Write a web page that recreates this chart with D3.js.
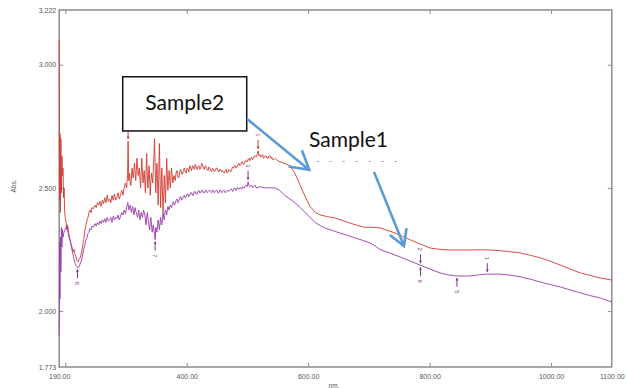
<!DOCTYPE html>
<html><head><meta charset="utf-8">
<script src="https://cdn.jsdelivr.net/npm/d3@7/dist/d3.min.js"></script>
<style>html,body{margin:0;padding:0;background:#fff;}svg{display:block;}</style>
</head><body>
<script>
// ---- data ----
const xTickMarks = [200, 400, 600, 800, 1000];
const xTickLabels = [190, 400, 600, 800, 1000, 1100];
const yTickMarks = [2.0, 2.5, 3.0];
const yTickLabels = [1.773, 2.0, 2.5, 3.0, 3.222];
const xDomain = [190, 1100];
const yDomain = [1.773, 3.222];

// Sample2 (upper, red) [nm, Abs]
const sample2 = [[190.0,3.10],[190.6,2.45],[191.3,2.72],[192.0,2.40],[192.8,2.70],[193.6,2.48],[194.5,2.63],[195.4,2.55],[196.3,2.58],[197.2,2.46],[198.1,2.50],[199.0,2.40],[200.0,2.38],[201.2,2.36],[202.5,2.33],[203.5,2.35],[204.5,2.34],[206.0,2.31],[207.8,2.29],[209.5,2.27],[211.0,2.26],[212.5,2.24],[214.4,2.25],[216.0,2.23],[217.7,2.22],[219.3,2.205],[221.0,2.20],[222.5,2.21],[224.3,2.215],[226.0,2.23],[227.6,2.25],[229.0,2.27],[230.8,2.30],[232.5,2.33],[234.1,2.35],[236.0,2.37],[237.4,2.38],[239.0,2.40],[240.7,2.41],[242.5,2.40],[244.0,2.42],[246.0,2.415],[249.0,2.43],[251.0,2.42],[253.0,2.44],[255.0,2.43],[257.0,2.445],[259.0,2.425],[261.0,2.45],[263.0,2.435],[265.0,2.46],[267.0,2.44],[269.0,2.47],[271.0,2.445],[273.0,2.455],[275.0,2.44],[277.0,2.47],[279.0,2.45],[281.0,2.475],[283.0,2.45],[285.0,2.46],[287.0,2.48],[289.0,2.455],[291.0,2.47],[293.0,2.49],[295.0,2.47],[297.0,2.50],[299.0,2.52],[301.0,2.50],[302.5,2.55],[303.5,2.69],[304.5,2.53],[306,2.56],[307,2.52],[308,2.51],[310,2.58],[311,2.55],[312,2.54],[314,2.60],[316,2.53],[317,2.57],[318,2.62],[320,2.55],[322,2.58],[323,2.54],[324,2.50],[326,2.62],[328,2.52],[329,2.55],[330,2.57],[332,2.48],[334,2.64],[335,2.56],[336,2.50],[338,2.59],[340,2.47],[341,2.53],[342,2.56],[344,2.52],[346,2.63],[347,2.70],[349,2.48],[350,2.55],[351,2.60],[353,2.43],[355,2.68],[357,2.42],[358,2.50],[359,2.58],[361,2.40],[362,2.47],[363,2.55],[365,2.44],[367,2.62],[369,2.49],[370,2.53],[371,2.57],[373,2.50],[375,2.58],[377,2.52],[379,2.55],[381,2.53],[382.5,2.56],[384,2.57],[385.5,2.545],[387,2.54],[388.5,2.565],[390,2.575],[391.5,2.56],[393,2.555],[394.5,2.57],[396,2.58],[397.5,2.565],[399,2.56],[400.5,2.58],[402,2.575],[403.5,2.565],[405,2.59],[406.5,2.58],[408,2.57],[409.5,2.59],[411,2.585],[412.5,2.575],[414,2.595],[415.5,2.585],[417,2.575],[418.5,2.585],[420,2.59],[421.5,2.575],[423,2.58],[424.5,2.6],[426,2.595],[427.5,2.58],[429,2.575],[430.5,2.59],[432,2.585],[433.5,2.575],[435,2.57],[436.5,2.585],[438,2.58],[439.5,2.57],[441,2.565],[442.5,2.58],[444,2.575],[445.5,2.565],[447,2.57],[448.5,2.58],[450,2.58],[451.5,2.57],[453,2.565],[454.5,2.575],[456,2.575],[457.5,2.565],[459,2.57],[460.5,2.565],[462,2.56],[463.5,2.57],[465,2.575],[466.5,2.56],[468,2.565],[469.5,2.575],[471,2.57],[472.5,2.565],[474,2.575],[475.5,2.585],[477,2.58],[478.5,2.59],[480,2.59],[481.5,2.58],[483,2.585],[484.5,2.595],[486,2.60],[487.5,2.59],[489,2.595],[490.5,2.605],[492,2.605],[493.5,2.595],[495,2.60],[496.5,2.61],[498,2.61],[499.5,2.605],[501,2.615],[502.5,2.62],[504,2.61],[505.5,2.62],[507,2.625],[508.5,2.615],[510,2.62],[511.5,2.63],[513,2.63],[514.5,2.625],[516,2.635],[517.5,2.65],[519,2.63],[520.5,2.635],[522,2.625],[523.5,2.63],[525,2.635],[526.5,2.62],[528,2.625],[529.5,2.63],[531,2.63],[532.5,2.62],[534,2.62],[535.5,2.63],[537,2.63],[538.5,2.62],[540,2.625],[541.5,2.615],[543,2.615],[546,2.62],[550,2.61],[560,2.60],[570,2.59],[578,2.56],[587,2.51],[595,2.465],[603,2.425],[612,2.40],[620,2.39],[632,2.383],[644,2.378],[656,2.368],[669,2.357],[681,2.348],[693,2.34],[705,2.34],[718,2.338],[730,2.328],[743,2.317],[755,2.303],[768,2.289],[785,2.272],[801,2.256],[818,2.25],[834,2.248],[850,2.248],[867,2.248],[884,2.249],[900,2.248],[916,2.245],[932,2.241],[949,2.236],[965,2.227],[982,2.216],[998,2.203],[1015,2.187],[1031,2.171],[1048,2.155],[1064,2.145],[1081,2.134],[1100,2.126]];

// Sample1 (lower, purple) [nm, Abs]
const sample1 = [[190.0,1.90],[190.6,2.28],[191.3,2.05],[192.0,2.30],[192.8,2.16],[193.6,2.34],[194.5,2.26],[195.4,2.33],[196.3,2.30],[197.9,2.32],[199.6,2.33],[201.2,2.34],[202.8,2.345],[204.5,2.32],[206,2.30],[207.8,2.29],[209.5,2.27],[211,2.25],[212.7,2.23],[214.4,2.21],[216,2.195],[217.7,2.185],[219.3,2.18],[221,2.175],[222.6,2.18],[224.3,2.19],[226,2.20],[227.6,2.215],[229,2.235],[230.8,2.255],[232.5,2.27],[234.1,2.29],[236,2.30],[237.4,2.315],[239,2.32],[240.7,2.335],[242.5,2.33],[244,2.345],[246,2.34],[249,2.355],[251,2.345],[253,2.36],[255,2.35],[257,2.365],[259,2.355],[261,2.37],[263,2.36],[265,2.375],[267,2.36],[269,2.38],[271,2.365],[273,2.37],[275,2.38],[277,2.36],[279,2.385],[281,2.37],[283,2.38],[285,2.375],[287,2.39],[289,2.37],[291,2.385],[293,2.40],[295,2.39],[297,2.41],[299,2.395],[301,2.42],[303,2.44],[305,2.41],[306,2.425],[307,2.43],[309,2.40],[310,2.415],[311,2.425],[313,2.39],[315,2.42],[316,2.405],[317,2.40],[319,2.38],[321,2.41],[322,2.385],[323,2.37],[325,2.40],[327,2.38],[328,2.395],[329,2.41],[331,2.39],[333,2.35],[334,2.38],[335,2.40],[337,2.36],[339,2.33],[340,2.36],[341,2.38],[343,2.32],[345,2.35],[347,2.31],[348,2.29],[349,2.34],[351,2.32],[352,2.35],[353,2.37],[355,2.33],[357,2.38],[358,2.36],[359,2.35],[361,2.40],[363,2.37],[364,2.395],[365,2.41],[367,2.39],[369,2.425],[371,2.41],[373,2.43],[375,2.42],[376.5,2.435],[378,2.445],[379.5,2.43],[381,2.435],[382.5,2.45],[384,2.455],[385.5,2.44],[387,2.445],[388.5,2.46],[390,2.465],[391.5,2.45],[393,2.455],[394.5,2.465],[396,2.47],[397.5,2.46],[399,2.465],[400.5,2.475],[402,2.475],[403.5,2.465],[405,2.47],[406.5,2.48],[408,2.48],[409.5,2.47],[411,2.47],[412.5,2.485],[414,2.485],[415.5,2.475],[417,2.475],[418.5,2.485],[420,2.49],[421.5,2.48],[423,2.48],[424.5,2.49],[426,2.49],[427.5,2.48],[429,2.48],[430.5,2.49],[432,2.49],[433.5,2.48],[435,2.485],[436.5,2.49],[438,2.49],[439.5,2.485],[441,2.48],[442.5,2.49],[444,2.49],[445.5,2.48],[447,2.485],[448.5,2.49],[450,2.49],[451.5,2.48],[453,2.48],[454.5,2.49],[456,2.49],[457.5,2.48],[459,2.485],[460.5,2.49],[462,2.49],[463.5,2.48],[465,2.485],[466.5,2.49],[468,2.49],[469.5,2.485],[471,2.49],[472.5,2.495],[474,2.495],[475.5,2.485],[477,2.49],[478.5,2.5],[480,2.495],[481.5,2.49],[483,2.50],[484.5,2.5],[486,2.495],[487.5,2.5],[489,2.50],[490.5,2.495],[492,2.505],[493.5,2.5],[495,2.50],[496.5,2.51],[498,2.51],[499.5,2.505],[501,2.525],[502.5,2.51],[504,2.505],[505.5,2.51],[507,2.51],[508.5,2.5],[510,2.505],[511.5,2.51],[513,2.51],[514.5,2.5],[516,2.50],[521,2.505],[529,2.50],[537,2.50],[545,2.50],[553,2.49],[561,2.47],[570,2.455],[578,2.44],[587,2.42],[595,2.40],[603,2.38],[611,2.36],[620,2.347],[628,2.337],[640,2.327],[652,2.317],[665,2.307],[677,2.297],[690,2.287],[702,2.276],[710,2.265],[718,2.25],[735,2.235],[751,2.22],[768,2.203],[784,2.187],[800,2.171],[817,2.155],[830,2.147],[842,2.143],[855,2.142],[867,2.143],[881,2.147],[895,2.15],[916,2.15],[932,2.146],[949,2.139],[965,2.13],[982,2.118],[998,2.108],[1015,2.098],[1031,2.086],[1048,2.074],[1064,2.063],[1081,2.053],[1100,2.037]];

// peak / valley pick labels
const sample2Picks = [[303.5,"2","above"],[517.5,"1","above"]];
const sample1Picks = [[501,"3","above"],[785,"2","above"],[895,"1","above"],[220,"8","below"],[348,"7","below"],[785,"6","below"],[845,"5","below"]];

// annotations in data units
const sample2Box = {nm0: 294.6, nm1: 498.8, a0: 2.951, a1: 2.731, text: "Sample2"};
const sample1Label = {nm: 601.4, a: 2.666, text: "Sample1"};
const dashedGuide = [[614, 2.607], [752, 2.607]];
const arrowA = [[499.3, 2.780], [601.9, 2.573]];
const arrowB = [[708.4, 2.565], [757.8, 2.264]];

// ---- drawing ----
const W = 626, H = 388;
const svg = d3.select("body").append("svg").attr("width", W).attr("height", H);
const x = d3.scaleLinear().domain(xDomain).range([59.2, 611.8]);
const y = d3.scaleLinear().domain(yDomain).range([367, 10]);
const axisColor = "#8c8c8c", labelColor = "#555";
const tickFont = "'Liberation Sans', Arial, sans-serif";

svg.append("defs").append("clipPath").attr("id","plot")
  .append("rect").attr("x", x(190)-1).attr("y", y(3.222)).attr("width", x(1100)-x(190)+1).attr("height", y(1.773)-y(3.222));

// frame
svg.append("rect").attr("x", x(190)).attr("y", y(3.222)).attr("width", x(1100)-x(190)).attr("height", y(1.773)-y(3.222))
  .attr("fill","none").attr("stroke",axisColor).attr("stroke-width",1.5);

function styleAxis(sel){
  sel.select(".domain").remove();
  sel.selectAll("line").attr("stroke", axisColor).attr("stroke-width",1);
  sel.selectAll("text").attr("fill", labelColor).attr("font-size", 7).attr("font-family", tickFont);
}
// inner tick marks on four sides
svg.append("g").attr("transform",`translate(0,${y(1.773)})`).call(d3.axisBottom(x).tickValues(xTickMarks).tickSize(-4).tickFormat("")).call(styleAxis);
svg.append("g").attr("transform",`translate(0,${y(3.222)})`).call(d3.axisTop(x).tickValues(xTickMarks).tickSize(-4).tickFormat("")).call(styleAxis);
svg.append("g").attr("transform",`translate(${x(190)},0)`).call(d3.axisLeft(y).tickValues(yTickMarks).tickSize(-4).tickFormat("")).call(styleAxis);
svg.append("g").attr("transform",`translate(${x(1100)},0)`).call(d3.axisRight(y).tickValues(yTickMarks).tickSize(-4).tickFormat("")).call(styleAxis);
// labels
svg.append("g").attr("transform",`translate(0,${y(1.773)})`).call(d3.axisBottom(x).tickValues(xTickLabels).tickSize(0).tickPadding(7).tickFormat(d3.format(".2f"))).call(styleAxis);
svg.append("g").attr("transform",`translate(${x(190)},0)`).call(d3.axisLeft(y).tickValues(yTickLabels).tickSize(0).tickPadding(3).tickFormat(d3.format(".3f"))).call(styleAxis);

svg.append("text").attr("x", 334).attr("y", 388).attr("text-anchor","middle").attr("font-size",6.5).attr("font-family",tickFont).attr("fill",labelColor).text("nm.");
svg.append("text").attr("transform","translate(16,186) rotate(-90)").attr("text-anchor","middle").attr("font-size",6.5).attr("font-family",tickFont).attr("fill",labelColor).text("Abs.");

// curves (drawn over the frame, as in the reference)
const line = d3.line().x(d => x(d[0])).y(d => y(d[1]));
const g = svg.append("g").attr("clip-path","url(#plot)");
g.append("path").datum(sample2).attr("d", line).attr("fill","none").attr("stroke","#d23a30").attr("stroke-width",0.9).attr("stroke-linejoin","round");
g.append("path").datum(sample1).attr("d", line).attr("fill","none").attr("stroke","#9a3aab").attr("stroke-width",0.9).attr("stroke-linejoin","round");

// pick markers
const bis = d3.bisector(d => d[0]).left;
function valueAt(series, nm){
  const i = Math.min(Math.max(bis(series, nm),1), series.length-1);
  const a = series[i-1], b = series[i];
  const t = (nm - a[0])/(b[0]-a[0]);
  return a[1] + (b[1]-a[1])*t;
}
function drawPicks(series, picks, color){
  picks.forEach(([nm,lab,pos]) => {
    const px = x(nm), py = y(valueAt(series, nm));
    const s = pos === "above" ? -1 : 1;
    const y0 = py + s*11, y1 = py + s*2;
    svg.append("line").attr("x1",px).attr("x2",px).attr("y1",y0).attr("y2",y1).attr("stroke",color).attr("stroke-width",1);
    svg.append("path").attr("d",`M${px-1.5},${y1+s*2.5}L${px},${y1}L${px+1.5},${y1+s*2.5}Z`).attr("fill",color);
    svg.append("text").attr("transform",`translate(${px},${py + s*16}) rotate(90)`).attr("text-anchor","middle").attr("dy","0.35em")
      .attr("font-size",6).attr("font-family",tickFont).attr("fill",color).text(lab);
  });
}
drawPicks(sample2, sample2Picks, "#c8403a");
drawPicks(sample1, sample1Picks, "#86338f");

// annotations
const blue = "#5b9bd5";
svg.append("rect").attr("x", x(sample2Box.nm0)).attr("y", y(sample2Box.a0))
  .attr("width", x(sample2Box.nm1)-x(sample2Box.nm0)).attr("height", y(sample2Box.a1)-y(sample2Box.a0))
  .attr("fill","#fff").attr("stroke","#111").attr("stroke-width",1.5);
svg.append("text").attr("x", (x(sample2Box.nm0)+x(sample2Box.nm1))/2).attr("y", y(sample2Box.a1)-21)
  .attr("text-anchor","middle").attr("font-family","Lato, 'Open Sans', sans-serif").attr("font-size",21).attr("fill","#111").text(sample2Box.text);
svg.append("text").attr("x", x(sample1Label.nm)).attr("y", y(sample1Label.a))
  .attr("font-family","Lato, 'Open Sans', sans-serif").attr("font-size",21).attr("fill","#111").text(sample1Label.text);
svg.append("line").attr("x1",x(dashedGuide[0][0])).attr("x2",x(dashedGuide[1][0])).attr("y1",y(dashedGuide[0][1])).attr("y2",y(dashedGuide[1][1]))
  .attr("stroke","#999").attr("stroke-width",1).attr("stroke-dasharray","2,11");

function arrow(pts, len){
  const [a,b] = pts;
  const x0 = x(a[0]), y0 = y(a[1]), x1 = x(b[0]), y1 = y(b[1]);
  const ang = Math.atan2(y0-y1, x0-x1);
  const d30 = Math.PI/6;
  const p1 = [x1+len*Math.cos(ang+d30), y1+len*Math.sin(ang+d30)];
  const p2 = [x1+len*Math.cos(ang-d30), y1+len*Math.sin(ang-d30)];
  svg.append("path").attr("d",`M${x0},${y0}L${x1},${y1}M${p1[0]},${p1[1]}L${x1},${y1}L${p2[0]},${p2[1]}`)
    .attr("fill","none").attr("stroke",blue).attr("stroke-width",2.6).attr("stroke-linejoin","miter").attr("stroke-linecap","butt");
}
arrow(arrowA, 21);
arrow(arrowB, 18);
</script>
</body></html>
